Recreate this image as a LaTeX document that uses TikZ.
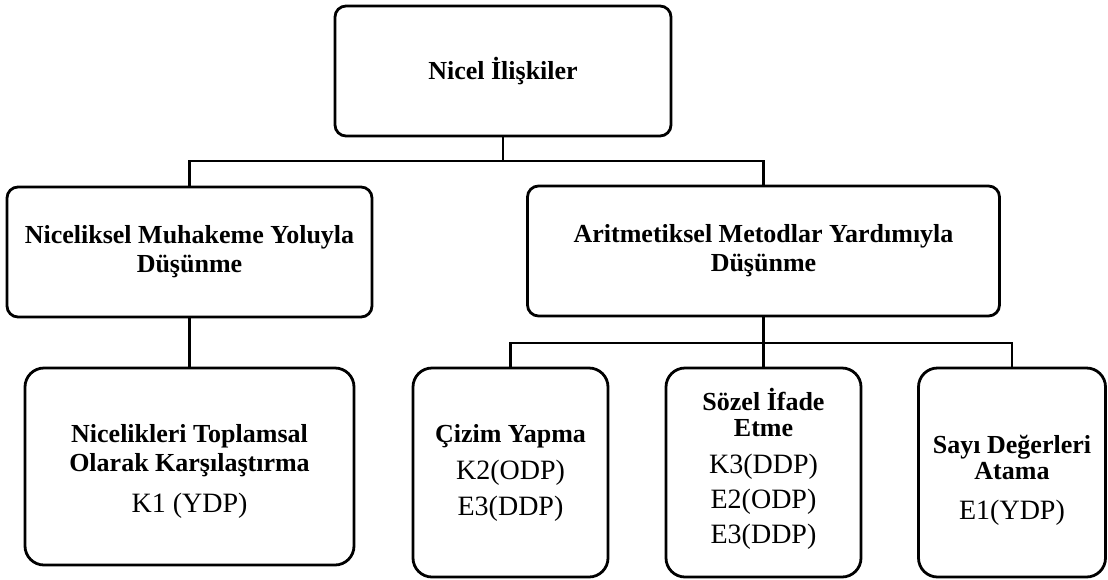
\documentclass[tikz,border=0pt]{standalone}
\usepackage{fontspec}
\setmainfont{Liberation Serif}
% bold heading line inside a box
\newcommand\headtext[1]{{\fontsize{26}{35}\selectfont\bfseries #1}}
\begin{document}
\begin{tikzpicture}[x=1pt,y=-1pt,
  box/.style={draw, line width=2.8pt, align=center, inner sep=0pt,
              font=\fontsize{28}{35}\selectfont},
  upperbox/.style={box, rounded corners=11pt},
  lowerbox/.style={box, rounded corners=19pt},
  link/.style={line width=2.8pt}]
\useasboundingbox (0,0) rectangle (1108,579);

% root
\node[upperbox, minimum width=336pt, minimum height=130pt] (root) at (503,71)
  {\headtext{Nicel İlişkiler}};

% second level
\node[upperbox, minimum width=365pt, minimum height=130pt] (nm) at (189.5,252)
  {\headtext{Niceliksel Muhakeme Yoluyla}\\[-6pt]\headtext{Düşünme}};
\node[upperbox, minimum width=472pt, minimum height=130pt] (am) at (763.5,251)
  {\headtext{Aritmetiksel Metodlar Yardımıyla}\\[-6pt]\headtext{Düşünme}};

% third level
\node[lowerbox, minimum width=329pt, minimum height=197pt] (nt) at (189.5,466.5)
  {\rule{0pt}{27pt}\headtext{Nicelikleri Toplamsal}\\[-6pt]\headtext{Olarak Karşılaştırma}\\[6pt]K1 (YDP)};
\node[lowerbox, minimum width=195pt, minimum height=209pt] (cy) at (510.5,472.5)
  {\headtext{Çizim Yapma}\\[2pt]K2(ODP)\\[1pt]E3(DDP)};
\node[lowerbox, minimum width=195pt, minimum height=209pt] (si) at (763.5,472.5)
  {\headtext{Sözel İfade}\\[-9pt]\headtext{Etme}\\[2pt]K3(DDP)\\E2(ODP)\\E3(DDP)\rule[-13pt]{0pt}{0pt}};
\node[lowerbox, minimum width=187pt, minimum height=209pt] (sd) at (1012,472.5)
  {\rule{0pt}{33pt}\headtext{Sayı Değerleri}\\[-9pt]\headtext{Atama}\\[5pt]E1(YDP)};

% junctions
\coordinate (j1) at (503,161);
\coordinate (j2) at (763.5,343);

% connectors
\draw[link] (root.south) -- (j1);
\draw[link] (nm.north) -- (nm.north |- j1) -- (am.north |- j1) -- (am.north);
\draw[link] (nm.south) -- (nt.north);
\draw[link] (am.south) -- (si.north);
\draw[link] (cy.north) -- (cy.north |- j2) -- (sd.north |- j2) -- (sd.north);
\end{tikzpicture}
\end{document}
